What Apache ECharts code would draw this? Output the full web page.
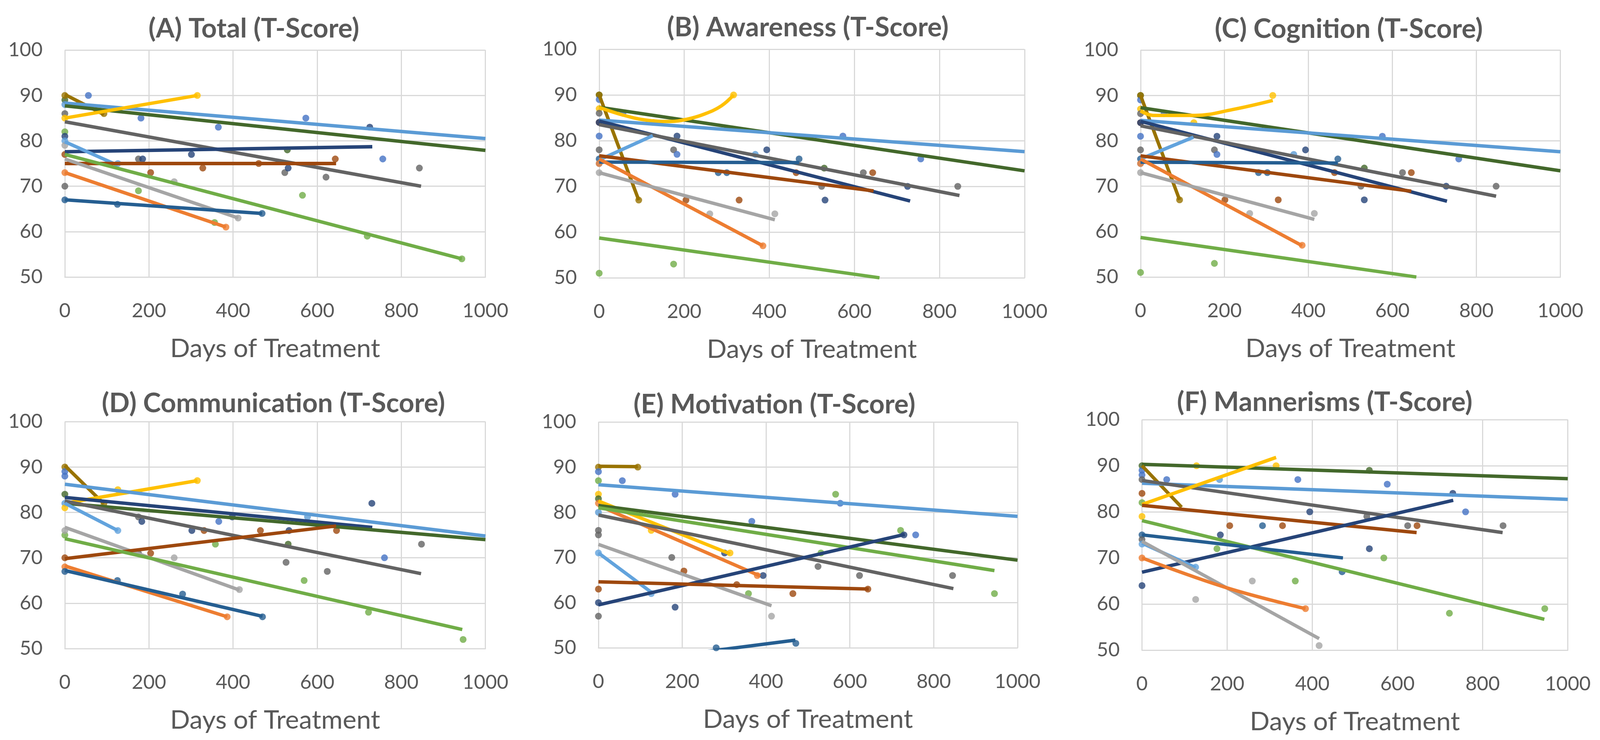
<!DOCTYPE html>
<html>
<head>
<meta charset="utf-8">
<script src="https://cdn.jsdelivr.net/npm/echarts/dist/echarts.min.js"></script>
<style>
html,body{margin:0;padding:0;background:#fff;overflow:hidden;}
#chart{width:100vw;height:100vh;}
</style>
</head>
<body>
<div id="chart"></div>
<script>
// ---------- data ----------
const patientColors = ['#5B9BD5','#ED7D31','#A5A5A5','#FFC000','#4472C4','#70AD47','#255E91','#9E480E','#636363','#997300','#264478','#43682B','#62A3DD'];
const LB=0, OR=1, GY=2, YE=3, BL=4, GN=5, ST=6, BR=7, DG=8, OL=9, NV=10, DK=11, LB2=12;

const panelTitles = ['(A) Total (T-Score)','(B) Awareness (T-Score)','(C) Cognition (T-Score)','(D) Communication (T-Score)','(E) Motivation (T-Score)','(F) Mannerisms (T-Score)'];
const xAxisName = 'Days of Treatment';
const xTicks = [0,200,400,600,800,1000];
const yTicks = [50,60,70,80,90,100];

// points: [patient, day, score]
const totalPts = [
 [DK,0,89],[OL,0,90],[OL,93,86],[BL,56,90],[BL,181,85],[BL,365,83],[BL,573,85],[BL,756,76],[LB,0,88],
 [DG,0,86],[DG,175,76],[DG,523,73],[DG,621,72],[DG,843,74],[YE,0,85],[YE,315,90],
 [GN,0,82],[GN,175,69],[GN,356,62],[GN,565,68],[GN,719,59],[GN,944,54],
 [NV,0,81],[NV,185,76],[NV,301,77],[NV,531,74],[NV,725,83],[LB2,0,80],[LB2,126,75],
 [GY,0,79],[GY,260,71],[GY,412,63],[BR,0,77],[BR,204,73],[BR,328,74],[BR,461,75],[BR,643,76],
 [OR,0,73],[OR,383,61],[DG,0,70],[ST,0,67],[ST,125,66],[ST,469,64],[DK,529,78]
];
const awarePts = [
 [DK,0,90],[OL,0,90],[BL,0,89],[YE,0,87],[DG,0,86],[BR,0,84],[NV,0,84],[BL,0,81],[DG,0,78],[ST,0,76],[LB2,0,75],[OR,0,75],[GY,0,73],[GN,0,51],
 [BL,56,86],[YE,127,84],[YE,316,90],[GN,175,53],[NV,183,81],[DG,175,78],[BL,183,77],[OL,93,67],
 [ST,280,73],[ST,300,73],[BR,204,67],[BR,329,67],[GY,260,64],[GY,413,64],[LB,367,77],[NV,394,78],
 [ST,470,76],[BR,463,73],[DG,523,70],[DK,529,74],[NV,531,67],[DG,621,73],[BR,643,73],
 [BL,573,81],[NV,725,70],[BL,756,76],[DG,843,70],[OR,385,57]
];
const cogPts = [
 [DK,0,90],[OL,0,90],[BL,0,89],[YE,0,87],[DG,0,86],[BR,0,84],[NV,0,84],[BL,0,81],[DG,0,78],[ST,0,76],[LB2,0,75],[OR,0,75],[GY,0,73],[GN,0,51],
 [BL,56,86],[YE,127,84],[YE,315,90],[GN,176,53],[NV,182,81],[DG,176,78],[BL,182,77],[OL,93,67],
 [ST,281,73],[ST,302,73],[BR,201,67],[BR,328,67],[GY,260,64],[GY,414,64],[LB,365,77],[NV,393,78],
 [ST,470,76],[BR,462,73],[DG,525,70],[DK,533,74],[NV,533,67],[DG,624,73],[BR,645,73],
 [BL,576,81],[NV,728,70],[BL,758,76],[DG,847,70],[OR,385,57]
];
const commPts = [
 [OL,0,90],[OL,93,82],[BL,0,89],[BL,0,88],[DK,0,84],[LB,0,82],[YE,0,81],[LB2,126,76],[GN,0,75],[GY,0,76],
 [BR,0,70],[OR,0,68],[ST,0,67],[YE,126,85],[YE,315,87],[DG,175,79],[NV,183,78],
 [DG,175,71],[BR,204,71],[GY,260,70],[GY,415,63],[ST,125,65],[ST,280,62],[ST,470,57],[OR,386,57],
 [NV,302,76],[BR,331,76],[BL,366,78],[GN,358,73],[NV,398,79],[BR,465,76],[NV,533,76],[DK,531,73],
 [DG,526,69],[LB,577,79],[GN,569,65],[DG,624,67],[BR,646,76],[NV,730,82],[GN,722,58],
 [BL,760,70],[DG,848,73],[GN,947,52]
];
const motPts = [
 [OL,0,90],[OL,94,90],[BL,0,89],[BL,57,87],[BL,183,84],[BL,366,78],[BL,577,82],[BL,757,75],
 [GN,0,87],[GN,358,62],[GN,531,71],[GN,566,84],[GN,721,76],[GN,945,62],
 [YE,0,84],[YE,126,76],[YE,314,71],[DK,0,83],[OR,0,82],[OR,379,66],[LB,0,80],
 [DG,0,76],[DG,0,75],[DG,175,70],[DG,524,68],[DG,623,66],[DG,845,66],[BR,204,67],
 [LB2,0,71],[LB2,126,62],[NV,0,60],[NV,183,59],[NV,301,71],[NV,393,66],[NV,729,75],
 [DG,0,57],[BR,0,63],[BR,330,64],[BR,464,62],[BR,643,63],[GY,413,57],[ST,281,50],[ST,471,51]
];
const manPts = [
 [DK,0,90],[BL,0,89],[BL,0,88],[YE,128,90],[YE,315,90],[BL,58,87],[BL,366,87],[BL,576,86],[BL,760,80],
 [LB,182,87],[DG,0,87],[BR,0,84],[GN,0,82],[YE,0,79],[NV,394,80],
 [BR,206,77],[BR,330,77],[BR,646,77],[ST,283,77],[DG,624,77],[DG,848,77],
 [NV,184,75],[NV,534,72],[NV,0,64],[NV,730,84],[DK,534,89],[DG,528,79],
 [GN,176,72],[GN,360,65],[GN,568,70],[GN,722,58],[GN,946,59],[LB2,126,68],
 [ST,0,75],[ST,470,67],[GY,126,61],[GY,259,65],[GY,416,51],[OR,0,70],[OR,384,59],[DG,0,74],[LB2,0,73]
];

// trend lines: [patient, [[day, score], ...]]
const totalTrend = [
 [OL,[[0,90.2],[93,85.8]]],[LB,[[0,88.3],[1000,80.5]]],[DK,[[0,87.7],[1000,77.9]]],[YE,[[0,85],[315,90]]],
 [DG,[[0,84.2],[847,70]]],[NV,[[0,77.6],[731,78.7]]],[LB2,[[0,79.8],[126,74.6]]],[BR,[[0,75],[645,75]]],
 [GN,[[0,77],[944,54]]],[GY,[[0,76],[412,63]]],[OR,[[0,73],[383,61]]],[ST,[[0,67],[469,64]]]
];
const awareTrend = [
 [OL,[[0,90],[93,67]]],[DK,[[0,87.3],[1000,73.4]]],
 [YE,[[0,87.3],[56,85.6],[110,84.5],[167,84.2],[207,84.7],[247,85.8],[287,87.6],[316,90]]],
 [LB,[[0,84.5],[1000,77.6]]],[NV,[[0,84.3],[731,66.8]]],[DG,[[0,83.5],[847,68]]],[LB2,[[0,75.8],[126,81.1]]],
 [BR,[[0,76.7],[645,69]]],[ST,[[0,75.3],[470,75.2]]],[OR,[[0,76],[385,57]]],[GY,[[0,73],[413,62.7]]],[GN,[[0,58.7],[659,50]]]
];
const cogTrend = [
 [OL,[[0,90],[93,67]]],[DK,[[0,87.3],[1000,73.4]]],
 [YE,[[0,86.6],[30,85.6],[130,85.6],[220,86.9],[315,88.9]]],
 [LB,[[0,84.5],[1000,77.6]]],[NV,[[0,84.3],[730,66.7]]],[DG,[[0,83.3],[847,67.8]]],[LB2,[[0,76],[126,80.8]]],
 [BR,[[0,76.7],[645,68.9]]],[ST,[[0,75.3],[470,75.1]]],[OR,[[0,76],[385,56.9]]],[GY,[[0,73],[414,62.7]]],[GN,[[0,58.7],[657,50]]]
];
const commTrend = [
 [OL,[[0,90.3],[93,81.9]]],[YE,[[0,82],[315,87]]],[LB,[[0,86.2],[1000,74.8]]],[NV,[[0,83.3],[731,76.7]]],
 [DK,[[0,82],[1000,74]]],[DG,[[0,82.5],[847,66.5]]],[LB2,[[0,82],[126,76]]],[GY,[[0,76.7],[415,62.9]]],
 [BR,[[0,69.8],[645,77]]],[GN,[[0,74.2],[945,54.2]]],[OR,[[0,68.2],[386,57]]],[ST,[[0,67.2],[470,57.1]]]
];
const motTrend = [
 [OL,[[0,90.2],[94,90.1]]],[LB,[[0,86.1],[1000,79.1]]],[YE,[[0,82.5],[314,70.8]]],[OR,[[0,81.5],[386,65.9]]],
 [DK,[[0,81.5],[1000,69.4]]],[GN,[[0,81],[945,67.1]]],[DG,[[0,79.4],[847,63.1]]],[GY,[[0,72.9],[413,59.3]]],
 [LB2,[[0,71],[126,62.3]]],[NV,[[0,59.5],[731,75.1]]],[BR,[[0,64.6],[645,63]]],[ST,[[0,46.1],[470,51.7]]]
];
const manTrend = [
 [DK,[[0,90.3],[1000,87.2]]],[OL,[[0,90],[93,81]]],[LB,[[0,86.2],[1000,82.7]]],[DG,[[0,86.8],[847,75.5]]],
 [YE,[[0,81.6],[315,91.8]]],[BR,[[0,81.4],[645,75.5]]],[NV,[[0,66.9],[731,82.5]]],[GN,[[0,78.1],[945,56.7]]],
 [ST,[[0,75],[472,70]]],[LB2,[[0,73.2],[126,67.9]]],[GY,[[0,73.6],[416,52.5]]],[OR,[[0,70],[200,63.5],[384,59]]]
];

const panelPoints = [totalPts, awarePts, cogPts, commPts, motPts, manPts];
const panelTrends = [totalTrend, awareTrend, cogTrend, commTrend, motTrend, manTrend];

// ---------- layout (designed for a 4318 x 1894 frame, scaled to the real viewport) ----------
const BASE_W = 4318, BASE_H = 1894;
const gridBoxes = [
 [175,128,1135,581],[1617,126,1148,585],[3078,128,1133,581],
 [175,1079,1135,581],[1615,1080,1131,578],[3082,1074,1149,590]
];
const titlePos = [[685,74],[2180,71],[3640,75],[738,1033],[2090,1036],[3575,1030]];
const titleWidths = [566,768,713,924,759,809];   // measured widths of the titles in the frame
const NAME_W = 567, TICK_W = 124;                 // "Days of Treatment" and "1000"

const el = document.getElementById('chart');
const W = el.clientWidth, H = el.clientHeight;
const sx = W / BASE_W, sy = H / BASE_H, sf = (sx + sy) / 2;

const FONT = 'Lato, "Open Sans", sans-serif';
const TXT = '#595959';
const GRID_C = '#D9D9D9';

// fit font sizes to the measured text widths
const mctx = document.createElement('canvas').getContext('2d');
function fitSize(text, weight, target) {
  mctx.font = weight + ' 100px ' + FONT;
  return 100 * target / mctx.measureText(text).width;
}
let tSum = 0;
panelTitles.forEach((t, i) => { tSum += fitSize(t, 'bold', titleWidths[i] * sx); });
const titleFs = tSum / panelTitles.length;
const nameFs = fitSize(xAxisName, 'normal', NAME_W * sx);
const tickFs = fitSize('1000', 'normal', TICK_W * sx);

const option = {
  animation: false,
  backgroundColor: '#ffffff',
  title: panelTitles.map((t, i) => ({
    text: t, left: titlePos[i][0] * sx, top: titlePos[i][1] * sy, padding: 0,
    textAlign: 'center', textVerticalAlign: 'middle',
    textStyle: {fontFamily: FONT, fontWeight: 'bold', fontSize: titleFs, color: TXT}
  })),
  grid: gridBoxes.map(g => ({left: g[0] * sx, top: g[1] * sy, width: g[2] * sx, height: g[3] * sy,
                              containLabel: false, outerBoundsMode: 'none'})),
  xAxis: gridBoxes.map((g, i) => ({
    gridIndex: i, type: 'value',
    min: xTicks[0], max: xTicks[xTicks.length - 1], interval: xTicks[1] - xTicks[0],
    name: xAxisName, nameLocation: 'middle', nameGap: 181 * sy - 0.46 * nameFs,
    nameTextStyle: {fontFamily: FONT, fontSize: nameFs, color: TXT},
    axisLine: {show: true, lineStyle: {color: GRID_C, width: 3 * sf}},
    axisTick: {show: false},
    splitLine: {show: true, lineStyle: {color: GRID_C, width: 3 * sf}},
    axisLabel: {fontFamily: FONT, fontSize: tickFs, color: TXT, margin: 84 * sy - 0.46 * tickFs, formatter: v => String(v)}
  })),
  yAxis: gridBoxes.map((g, i) => ({
    gridIndex: i, type: 'value',
    min: yTicks[0], max: yTicks[yTicks.length - 1], interval: yTicks[1] - yTicks[0],
    axisLine: {show: false},
    axisTick: {show: false},
    splitLine: {show: true, lineStyle: {color: GRID_C, width: 3 * sf}},
    axisLabel: {fontFamily: FONT, fontSize: tickFs, color: TXT, margin: 60 * sx, formatter: v => String(v)}
  })),
  series: []
};

panelPoints.forEach((pts, i) => {
  option.series.push({
    type: 'scatter', xAxisIndex: i, yAxisIndex: i, symbol: 'circle', symbolSize: 18 * sf, z: 2, silent: true,
    data: pts.map(p => ({value: [p[1], p[2]], itemStyle: {color: patientColors[p[0]]}}))
  });
});
panelTrends.forEach((trs, i) => {
  trs.forEach(tr => {
    option.series.push({
      type: 'line', xAxisIndex: i, yAxisIndex: i, data: tr[1], symbol: 'none', showSymbol: false,
      smooth: tr[1].length > 2 ? 0.4 : false, clip: true, silent: true, z: 3,
      lineStyle: {color: patientColors[tr[0]], width: 9 * sf}
    });
  });
});

const chart = echarts.init(el, null, {renderer: 'canvas'});
chart.setOption(option);
</script>
</body>
</html>
